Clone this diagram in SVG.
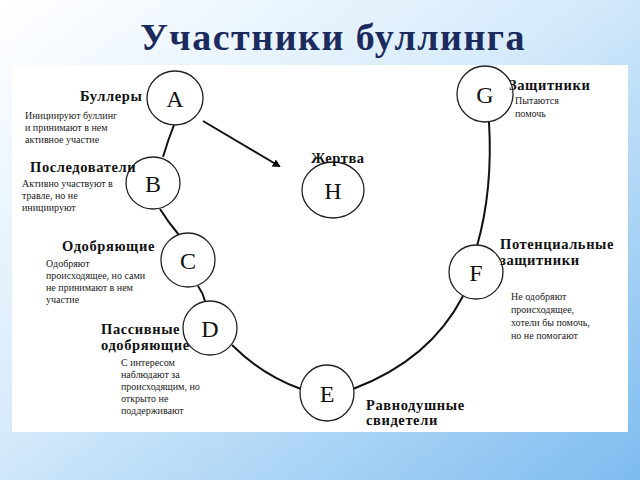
<svg xmlns="http://www.w3.org/2000/svg" width="640" height="480" viewBox="0 0 640 480">
<defs>
<linearGradient id="bg" x1="0" y1="0" x2="1" y2="1">
<stop offset="0" stop-color="#ffffff"/><stop offset="0.45" stop-color="#d6ebfb"/><stop offset="1" stop-color="#7dbcef"/>
</linearGradient>
<marker id="ah" markerWidth="8" markerHeight="8" refX="6" refY="4" orient="auto" markerUnits="userSpaceOnUse" viewBox="0 0 8 8"><path d="M0,0 L8,4 L0,8 z" fill="#000"/></marker>
</defs>
<style>
.n ellipse{fill:#fff;stroke:#222;stroke-width:1.3}
.L{font-family:"Liberation Serif",serif;font-size:24px;fill:#111;text-anchor:middle}
.h{font-family:"Liberation Serif",serif;font-size:14.5px;font-weight:bold;fill:#111;letter-spacing:0.6px}
.d{font-family:"Liberation Serif",serif;font-size:10px;fill:#222}
#c path{fill:none;stroke:#111;stroke-width:2}
</style>
<rect width="640" height="480" fill="url(#bg)"/>
<rect x="12" y="65" width="616" height="367" fill="#fff"/>
<text x="333" y="50" text-anchor="middle" font-family="Liberation Serif,serif" font-weight="bold" font-size="38" fill="#1b2b5e" letter-spacing="1.5">Участники буллинга</text>
<g id="c">
<path d="M174,125 Q168,140 163,157"/>
<path d="M160,209 Q168,222 179,235"/>
<path d="M198,286 Q203,293 205,301"/>
<path d="M232,345 Q262,375 301,389"/>
<path d="M353,389 Q430,360 463,296"/>
<path d="M477,246 Q493,190 489,122"/>
<path d="M203,121 L279,166" stroke-width="3" marker-end="url(#ah)"/>
</g>
<g id="nA" class="n"><ellipse cx="175" cy="98" rx="28" ry="27"/><text class="L" x="175" y="107">A</text>
<text class="h" x="80" y="101">Буллеры</text>
<text class="d" x="25" y="119">Инициируют буллинг</text><text class="d" x="25" y="131">и принимают в нем</text><text class="d" x="25" y="143">активное участие</text></g>
<g id="nB" class="n"><ellipse cx="153" cy="183" rx="27" ry="26"/><text class="L" x="153" y="192">B</text>
<text class="h" x="30" y="172">Последователи</text>
<text class="d" x="22" y="187">Активно участвуют в</text><text class="d" x="22" y="199">травле, но не</text><text class="d" x="22" y="211">инициируют</text></g>
<g id="nC" class="n"><ellipse cx="188" cy="260" rx="27" ry="27"/><text class="L" x="188" y="269">C</text>
<text class="h" x="62" y="251">Одобряющие</text>
<text class="d" x="46" y="267">Одобряют</text><text class="d" x="46" y="279">происходящее, но сами</text><text class="d" x="46" y="291">не принимают в нем</text><text class="d" x="46" y="303">участие</text></g>
<g id="nD" class="n"><ellipse cx="210" cy="328" rx="27" ry="27"/><text class="L" x="210" y="337">D</text>
<text class="h" x="101" y="334">Пассивные</text><text class="h" x="101" y="350">одобряющие</text>
<text class="d" x="121" y="366">С интересом</text><text class="d" x="121" y="378">наблюдают за</text><text class="d" x="121" y="390">происходящим, но</text><text class="d" x="121" y="402">открыто не</text><text class="d" x="121" y="414">поддерживают</text></g>
<g id="nE" class="n"><ellipse cx="327" cy="393" rx="27" ry="28"/><text class="L" x="327" y="402">E</text>
<text class="h" x="366" y="410">Равнодушные</text><text class="h" x="366" y="425">свидетели</text></g>
<g id="nF" class="n"><ellipse cx="476" cy="272" rx="27" ry="27"/><text class="L" x="476" y="281">F</text>
<text class="h" x="500" y="249">Потенциальные</text><text class="h" x="500" y="265">защитники</text>
<text class="d" x="511" y="300">Не одобряют</text><text class="d" x="511" y="313">происходящее,</text><text class="d" x="511" y="326">хотели бы помочь,</text><text class="d" x="511" y="339">но не помогают</text></g>
<g id="nG" class="n"><ellipse cx="485" cy="94" rx="28" ry="28"/><text class="L" x="485" y="103">G</text>
<text class="h" x="509" y="90">Защитники</text>
<text class="d" x="515" y="104">Пытаются</text><text class="d" x="515" y="117">помочь</text></g>
<g id="nH" class="n"><ellipse cx="333" cy="190" rx="31" ry="28"/><text class="L" x="333" y="199">H</text>
<text class="h" x="311" y="163">Жертва</text></g>
</svg>
